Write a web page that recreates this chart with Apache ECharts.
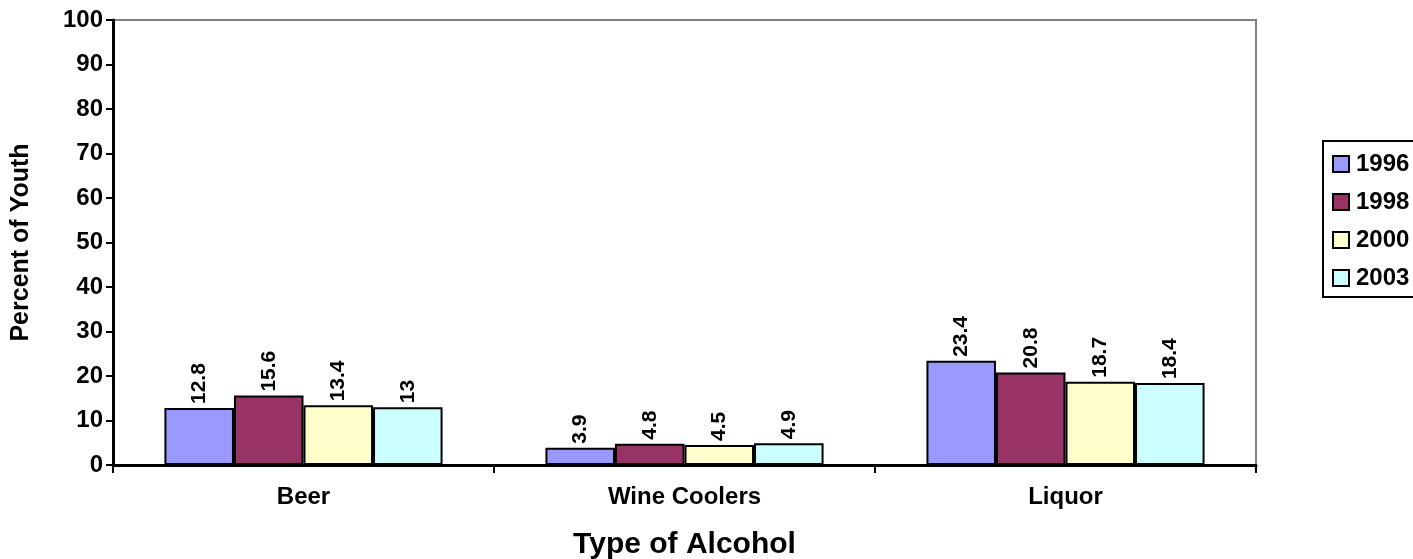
<!DOCTYPE html>
<html>
<head>
<meta charset="utf-8">
<script src="https://cdn.jsdelivr.net/npm/echarts@6/dist/echarts.min.js"></script>
<style>
  html, body { margin: 0; padding: 0; background: #ffffff; }
  #chart { width: 1413px; height: 559px; }
</style>
</head>
<body>
<div id="chart"></div>
<script>
// Alcohol types and survey years
const categories = ['Beer', 'Wine Coolers', 'Liquor'];
const years = ['1996', '1998', '2000', '2003'];

// Percent of youth, one array per survey year (Beer, Wine Coolers, Liquor)
const values1996 = [12.8, 3.9, 23.4];
const values1998 = [15.6, 4.8, 20.8];
const values2000 = [13.4, 4.5, 18.7];
const values2003 = [13, 4.9, 18.4];

const yearValues = [values1996, values1998, values2000, values2003];
const yearColors = ['#9999FF', '#993366', '#FFFFCC', '#CCFFFF'];

const FONT = 'Liberation Sans, Arial, Helvetica, sans-serif';

const chart = echarts.init(document.getElementById('chart'), null, { renderer: 'canvas' });

const series = years.map((y, i) => ({
  name: y,
  type: 'bar',
  data: yearValues[i],
  barGap: '0%',
  barCategoryGap: '27%',
  itemStyle: { color: yearColors[i], borderColor: '#000000', borderWidth: 2 },
  label: {
    show: true,
    position: 'top',
    rotate: 90,
    align: 'left',
    verticalAlign: 'middle',
    distance: 4,
    color: '#000000',
    fontFamily: FONT,
    fontWeight: 'bold',
    fontSize: 21
  }
}));

chart.setOption({
  animation: false,
  backgroundColor: '#ffffff',
  grid: {
    left: 113, right: 157, top: 20, bottom: 94,
    outerBoundsMode: 'none',
    containLabel: false,
    show: true, borderColor: '#808080', borderWidth: 2, backgroundColor: 'transparent'
  },
  legend: {
    orient: 'vertical',
    left: 1323,
    top: 141,
    data: years,
    icon: 'rect',
    itemWidth: 16,
    itemHeight: 16,
    itemGap: 14,
    padding: [11, 30, 7, 9],
    borderColor: '#000000',
    borderWidth: 2,
    itemStyle: { borderColor: '#000000', borderWidth: 2 },
    textStyle: { fontFamily: FONT, fontWeight: 'bold', fontSize: 24, color: '#000000', padding: [0, 0, 0, 2] }
  },
  xAxis: {
    type: 'category',
    data: categories,
    name: 'Type of Alcohol',
    nameLocation: 'middle',
    nameGap: 65,
    nameTextStyle: { fontFamily: FONT, fontWeight: 'bold', fontSize: 30, color: '#000000' },
    axisLine: { lineStyle: { color: '#000000', width: 3 } },
    axisTick: { show: true, alignWithLabel: false, length: 8, lineStyle: { color: '#000000', width: 2 } },
    axisLabel: { margin: 20, fontFamily: FONT, fontWeight: 'bold', fontSize: 24, color: '#000000' },
    splitLine: { show: false }
  },
  yAxis: {
    type: 'value',
    min: 0,
    max: 100,
    interval: 10,
    name: 'Percent of Youth',
    nameLocation: 'middle',
    nameGap: 79,
    nameRotate: 90,
    nameTextStyle: { fontFamily: FONT, fontWeight: 'bold', fontSize: 25, color: '#000000' },
    axisLine: { show: true, lineStyle: { color: '#000000', width: 3 } },
    axisTick: { show: true, length: 7, lineStyle: { color: '#000000', width: 2 } },
    axisLabel: { margin: 10, fontFamily: FONT, fontWeight: 'bold', fontSize: 24, color: '#000000' },
    splitLine: { show: false }
  },
  series: series
});
</script>
</body>
</html>
